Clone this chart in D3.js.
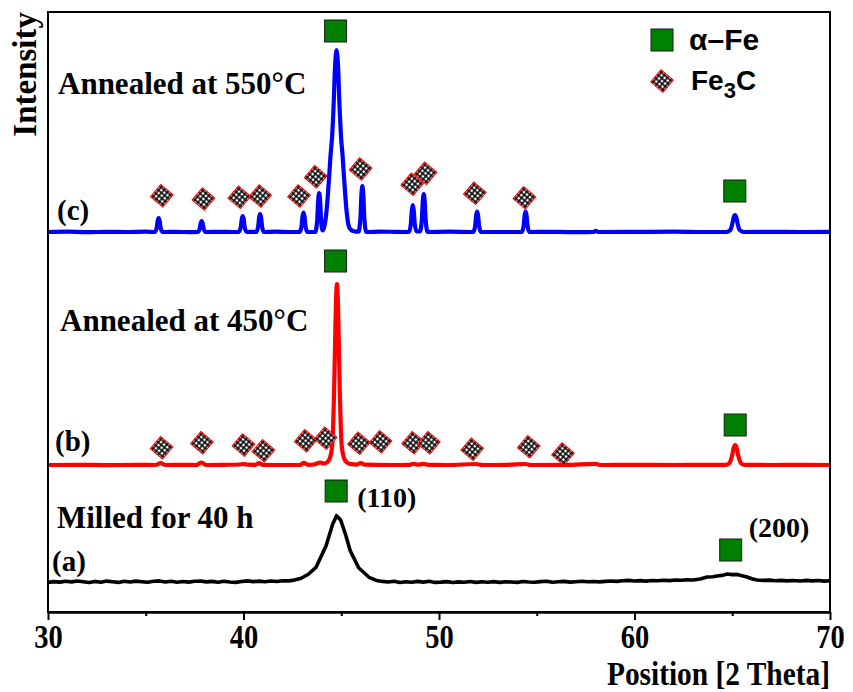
<!DOCTYPE html>
<html>
<head>
<meta charset="utf-8">
<script src="https://cdn.jsdelivr.net/npm/d3@7/dist/d3.min.js"></script>
<style>
  body { margin: 0; background: #fff; }
  svg { display: block; }
  .serif { font-family: "Liberation Serif", "Times New Roman", serif; font-weight: bold; }
  .sans { font-family: "Liberation Sans", Arial, sans-serif; font-weight: bold; }
</style>
</head>
<body>
<svg id="chart" width="853" height="692"></svg>
<script>
// ---- axis ----
const xDomain = [30, 70];
const xTicks = [30, 40, 50, 60, 70];
const xMinorTicks = [35, 45, 55, 65];

// ---- samples (bottom to top) ----
const sampleLetters = ["(a)", "(b)", "(c)"];
const sampleTitles = ["Milled for 40 h", "Annealed at 450°C", "Annealed at 550°C"];
const sampleColors = ["#000000", "#ff0000", "#0000ff"];
const sampleOffsets = [28, 145, 378];

// ---- diffraction patterns: [2θ, intensity (a.u.)] ----
const patternA = [
  [30,1.6],[30.3,2.4],[30.6,1.9],[30.9,2.8],[31.2,2.1],[31.5,3.0],[31.8,2.2],[32.1,1.5],[32.4,2.6],
  [32.7,1.8],[33.0,2.9],[33.3,2.2],[33.6,1.6],[33.9,2.7],[34.2,2.0],[34.5,2.9],[34.8,2.3],[35.1,1.7],
  [35.4,2.8],[35.7,3.1],[36.0,2.0],[36.3,2.7],[36.6,1.8],[36.9,2.5],[37.2,1.9],[37.5,2.8],[37.8,3.0],
  [38.1,2.1],[38.4,2.6],[38.7,1.8],[39.0,2.7],[39.3,2.0],[39.6,1.6],[39.9,2.5],[40.2,3.1],[40.5,2.4],
  [40.8,2.9],[41.1,2.2],[41.4,3.0],[41.7,2.5],[42.0,3.3],[42.3,3.1],[42.6,3.9],[42.92,5.5],[43.3,9.5],
  [43.71,16.7],[44.22,38],[44.56,59.7],[44.76,68.3],[44.97,64],[45.21,50],[45.46,33.3],[45.89,16.3],
  [46.42,6.7],[46.8,3.6],[47.1,2.6],[47.4,2.0],[47.7,2.7],[48.0,1.5],[48.3,2.2],[48.6,1.7],[48.9,2.6],
  [49.2,1.9],[49.5,2.8],[49.8,1.6],[50.1,1.9],[50.4,2.4],[50.7,1.5],[51.0,2.1],[51.3,1.7],[51.6,2.5],
  [51.9,1.6],[52.2,2.2],[52.5,1.8],[52.8,2.4],[53.1,1.6],[53.4,2.3],[53.7,2.0],[54.0,1.6],[54.3,2.5],
  [54.6,2.0],[54.9,1.7],[55.2,2.4],[55.5,2.7],[55.8,1.8],[56.1,2.2],[56.4,2.6],[56.7,1.9],[57.0,2.3],
  [57.3,2.8],[57.6,2.2],[57.9,2.5],[58.2,2.1],[58.5,2.6],[58.8,3.0],[59.1,2.6],[59.4,3.2],[59.7,3.6],
  [60.0,3.0],[60.3,3.4],[60.6,2.9],[60.9,3.5],[61.2,3.2],[61.5,3.8],[61.8,3.4],[62.1,4.0],[62.4,3.7],
  [62.7,4.3],[63.0,4.0],[63.36,5],[63.72,7],[64.0,7.3],[64.3,8.2],[64.5,8.6],[64.74,10],[65.0,9.4],
  [65.25,9.6],[65.5,8.2],[65.76,7],[66.0,5.2],[66.27,4],[66.6,3.6],[66.9,3.9],[67.2,3.2],[67.5,3.6],
  [67.8,3.1],[68.1,3.5],[68.47,3],[68.8,3.6],[69.1,3.1],[69.4,3.5],[69.7,2.9],[70,3.3]
];

const patternB = [
  [30,2],[31.5,2.2],[33,1.9],[34.5,2.1],[35.5,2],[35.77,4],[36.0,2],[37.0,2.1],[37.6,2],[37.84,4.5],
  [38.1,2],[39.0,2.2],[39.8,2.5],[40.0,3],[40.2,2.3],[40.6,2.2],[40.8,3.8],[41.0,2.1],[42.0,2],
  [42.9,2],[43.08,4.2],[43.3,2.2],[43.6,2.5],[43.93,4.5],[44.1,3.5],
  [44.27,4.5],[44.42,9],[44.53,20],[44.58,38],[44.63,71],[44.68,119],[44.73,165],[44.78,183],
  [44.83,165],[44.88,119],[44.93,71],[44.98,38],[45.03,20],[45.14,9],[45.29,4.5],[45.5,2.8],
  [45.8,2.4],[45.99,4],[46.2,2.3],[47.5,2],[48.5,2.2],[48.7,3.2],[48.95,2.3],[49.2,3.2],[49.45,2.1],
  [50.5,2],[51.9,3],[52.2,2],[53.5,2.1],[54.4,3],[54.7,2],[56.5,2.1],[58.0,3.2],[58.3,2],[60,2.1],
  [62,2],[63.5,2.2],[64.5,2.1],
  [64.69,2.2],[64.84,3.5],[64.92,6.5],[65.0,12],[65.07,19],[65.15,22],[65.23,19],[65.3,12],
  [65.38,6.5],[65.46,3.5],[65.61,2.2],[67,2],[68.5,2.1],[70,2]
];

const patternC = [
  [30,2],[31,2.3],[32,1.8],[33,2.2],[34,2],[35,2.4],
  [35.46,2],[35.56,6.2],[35.61,13.2],[35.66,16],[35.71,13.2],[35.76,6.2],[35.86,2],
  [36.5,2.1],[37.3,1.9],
  [37.66,2],[37.76,5.3],[37.81,10.8],[37.86,13],[37.91,10.8],[37.96,5.3],[38.06,2],
  [38.8,2.2],[39.5,2],
  [39.76,2],[39.86,6.8],[39.91,14.8],[39.96,18],[40.01,14.8],[40.06,6.8],[40.16,2],
  [40.4,2.1],
  [40.65,2],[40.75,7.4],[40.8,16.4],[40.85,20],[40.9,16.4],[40.95,7.4],[41.05,2],
  [41.6,2.3],[42.4,2],
  [42.87,2],[42.97,7.9],[43.02,17.6],[43.07,21.5],[43.12,17.6],[43.17,7.9],[43.27,2],
  [43.67,2],[43.77,13.7],[43.82,33.2],[43.87,41],[43.92,33.2],[43.97,13.7],[44.05,3.5],
  [44.15,9],[44.22,18],[44.3,35],[44.38,57],[44.45,78],[44.53,97],[44.61,129],[44.68,166],
  [44.76,184],[44.84,166],[44.91,129],[44.99,97],[45.07,78],[45.14,57],[45.22,35],[45.3,18],
  [45.37,9],[45.48,4.5],[45.65,2.8],
  [45.88,2.3],[45.98,15.8],[46.03,38.8],[46.08,48],[46.13,38.8],[46.18,15.8],[46.28,2],
  [47,2.4],[47.8,2.1],
  [48.46,2],[48.56,10.1],[48.61,23.6],[48.66,29],[48.71,23.6],[48.76,10.1],[48.86,2.5],
  [49.02,2.5],[49.12,13.4],[49.17,32.4],[49.22,40],[49.27,32.4],[49.32,13.4],[49.42,2],
  [50.5,2.3],
  [51.75,2],[51.85,8.2],[51.9,18.4],[51.95,22.5],[52.0,18.4],[52.05,8.2],[52.15,2],
  [53.2,2],
  [54.23,2],[54.33,8.2],[54.38,18.4],[54.43,22.5],[54.48,18.4],[54.53,8.2],[54.63,2],
  [55.5,2.2],[56.8,1.9],[57.9,2],[58.02,3.2],[58.14,2],[60,2.1],[62,2.3],[63.5,2],
  [64.7,2],[64.9,4],[65.0,10],[65.07,16.5],[65.14,19],[65.21,16.5],[65.28,10],[65.38,4],[65.6,2],
  [67,2.2],[68.5,2],[70,2.1]
];

// ---- phase markers: [2θ, level above the trace offset] ----
const ferriteA = [[44.74, 93], [64.92, 34]];
const ferriteB = [[44.71, 206], [65.15, 42]];
const ferriteC = [[44.71, 203], [65.13, 43]];
const cementiteB = [
  [35.81,19.3],[37.87,24.3],[40.0,22],[41.02,16.3],[43.18,26.3],[44.2,28.7],[45.9,23.7],
  [47.01,25.3],[48.68,24.3],[49.48,24.3],[51.7,17.7],[54.59,20.3],[56.34,13]
];
const cementiteC = [
  [35.82,38.3],[37.95,35],[39.79,36.7],[40.85,38],[42.84,38],[43.69,57.3],[45.99,65],
  [48.63,49.7],[49.31,60.7],[51.83,40.7],[54.37,36.3]
];
const hklLabels = ["(110)", "(200)"];

const patterns = [patternA, patternB, patternC];
const ferrite = [ferriteA, ferriteB, ferriteC];
const cementite = [[], cementiteB, cementiteC];

// ---- layout ----
const plot = { left: 48, right: 830, top: 12, bottom: 612 };
const svg = d3.select("#chart");
const x = d3.scaleLinear().domain(xDomain).range([plot.left, plot.right]);
const y = d3.scaleLinear().domain([0, 600]).range([plot.bottom, plot.top]);

// crosshatch fill for the Fe3C symbol
const defs = svg.append("defs");
const grid = defs.append("pattern")
  .attr("id", "fe3c-grid")
  .attr("patternUnits", "userSpaceOnUse")
  .attr("x", -8).attr("y", -8)
  .attr("width", 4).attr("height", 4);
grid.append("rect").attr("width", 4).attr("height", 4).attr("fill", "#fff");
grid.append("path").attr("d", "M0,2H4M2,0V4").attr("stroke", "#000").attr("stroke-width", 1.5);

defs.append("clipPath").attr("id", "plot-clip")
  .append("rect")
  .attr("x", plot.left).attr("y", plot.top)
  .attr("width", plot.right - plot.left).attr("height", plot.bottom - plot.top);

// ---- traces ----
const traces = svg.append("g").attr("clip-path", "url(#plot-clip)");
patterns.forEach((data, i) => {
  const off = sampleOffsets[i];
  const line = d3.line()
    .x(d => x(d[0]))
    .y(d => y(d[1] + off))
    .curve(i === 0 ? d3.curveLinear : d3.curveMonotoneX);
  traces.append("path")
    .datum(data)
    .attr("d", line)
    .attr("fill", "none")
    .attr("stroke", sampleColors[i])
    .attr("stroke-width", i === 0 ? 3.6 : 4.2)
    .attr("stroke-linejoin", "round");
});

// ---- symbols ----
function drawFerrite(g, cx, cy) {
  g.append("rect")
    .attr("x", cx - 11).attr("y", cy - 11)
    .attr("width", 22).attr("height", 22)
    .attr("fill", "#008000")
    .attr("stroke", "#1a1a1a").attr("stroke-width", 1);
}
function drawCementite(g, cx, cy) {
  g.append("g")
    .attr("transform", `translate(${cx},${cy}) rotate(40)`)
    .append("rect")
    .attr("x", -8).attr("y", -8).attr("width", 16).attr("height", 16)
    .attr("fill", "url(#fe3c-grid)")
    .attr("stroke", "#ff0000").attr("stroke-width", 1.1);
}

const marks = svg.append("g");
ferrite.forEach((list, i) => {
  list.forEach(d => drawFerrite(marks, x(d[0]), y(d[1] + sampleOffsets[i])));
});
cementite.forEach((list, i) => {
  list.forEach(d => drawCementite(marks, x(d[0]), y(d[1] + sampleOffsets[i])));
});

// Miller indices beside the milled-sample reflections
const hklPos = [[21, 16], [18, -13]];
ferriteA.forEach((d, k) => {
  svg.append("text").attr("class", "serif")
    .attr("x", x(d[0]) + hklPos[k][0])
    .attr("y", y(d[1] + sampleOffsets[0]) + hklPos[k][1])
    .attr("font-size", 28)
    .text(hklLabels[k]);
});

// ---- sample labels ----
const titlePos = [[57, 528], [60, 331], [58, 94]];
const letterPos = [[52, 571], [55, 451], [57, 220]];
sampleTitles.forEach((t, i) => {
  svg.append("text").attr("class", "serif")
    .attr("x", titlePos[i][0]).attr("y", titlePos[i][1])
    .attr("font-size", 31).text(t);
  svg.append("text").attr("class", "serif")
    .attr("x", letterPos[i][0]).attr("y", letterPos[i][1])
    .attr("font-size", 29).text(sampleLetters[i]);
});

// ---- frame and axis ----
svg.append("rect")
  .attr("x", plot.left).attr("y", plot.top)
  .attr("width", plot.right - plot.left).attr("height", plot.bottom - plot.top)
  .attr("fill", "none").attr("stroke", "#000").attr("stroke-width", 2);

const axisMajor = svg.append("g")
  .attr("transform", `translate(0,${plot.bottom})`)
  .call(d3.axisBottom(x).tickValues(xTicks).tickSize(8).tickSizeOuter(0).tickFormat(d3.format("d")));
const axisMinor = svg.append("g")
  .attr("transform", `translate(0,${plot.bottom})`)
  .call(d3.axisBottom(x).tickValues(xMinorTicks).tickSize(4).tickSizeOuter(0).tickFormat(""));
[axisMajor, axisMinor].forEach(g => {
  g.select(".domain").attr("stroke-width", 2);
  g.selectAll(".tick line").attr("stroke-width", 2);
});
axisMajor.selectAll(".tick text")
  .attr("class", "serif")
  .attr("font-size", 30)
  .attr("fill", "#000")
  .attr("y", 0).attr("dy", 0)
  .attr("transform", "translate(0,36) scale(0.95,1.12)");

svg.append("text").attr("class", "serif")
  .attr("text-anchor", "end")
  .attr("font-size", 30)
  .attr("transform", `translate(${plot.right},685) scale(0.98,1.12)`)
  .text("Position [2 Theta]");

svg.append("text").attr("class", "serif")
  .attr("text-anchor", "end")
  .attr("font-size", 33)
  .attr("transform", `translate(36,${plot.top}) rotate(-90)`)
  .text("Intensity");

// ---- legend ----
const legend = svg.append("g");
drawFerrite(legend, 662, 40);
legend.append("text").attr("class", "sans")
  .attr("x", 689).attr("y", 50).attr("font-size", 30).text("α–Fe");
drawCementite(legend, 662, 81);
const fe3c = legend.append("text").attr("class", "sans")
  .attr("x", 691).attr("y", 90).attr("font-size", 28);
fe3c.append("tspan").text("Fe");
fe3c.append("tspan").attr("font-size", 22).attr("dy", 8).text("3");
fe3c.append("tspan").attr("dy", -8).text("C");
</script>
</body>
</html>
